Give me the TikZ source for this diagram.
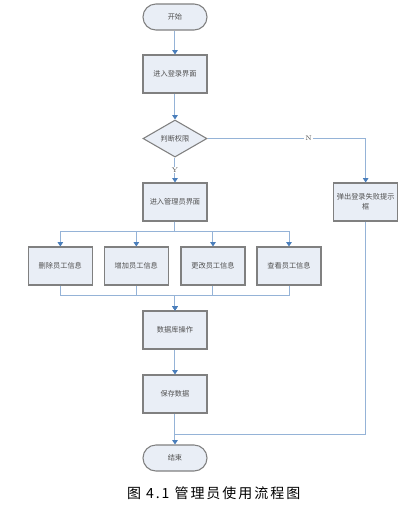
\documentclass[tikz,border=0pt]{standalone}
\usepackage{fontspec}
\newfontfamily\cjk{Noto Sans CJK SC}
\newfontfamily\capfont[LetterSpace=14]{Noto Sans CJK SC}
\usepackage{xcolor}
\usepackage{tikz}
\usetikzlibrary{arrows.meta, positioning, shapes.geometric}

\definecolor{boxfill}{HTML}{E9EEF6}
\definecolor{boxline}{HTML}{808080}
\definecolor{linkline}{HTML}{95B3D7}
\definecolor{tipblue}{HTML}{4A7EBB}
\definecolor{boxtext}{HTML}{505050}

\begin{document}
\begin{tikzpicture}[
node distance=48pt,
base/.style={
    draw=boxline, fill=boxfill, line width=0.8pt, align=center,
    text=boxtext, inner sep=1pt,
    font=\cjk\fontsize{5.4}{7.5}\selectfont
},
stepbox/.style={base, minimum width=48pt, minimum height=28.5pt},
terminal/.style={base, rounded corners=9.7pt, minimum width=48pt, minimum height=19.5pt},
decision/.style={base, diamond, minimum width=48pt, minimum height=27.8pt, inner sep=0pt},
line/.style={draw=linkline, line width=0.75pt},
arrow/.style={line, -{Triangle[length=3.2pt, width=4pt, color=tipblue]}},
lbl/.style={font=\fontsize{5}{6}\selectfont, text=boxtext, fill=white, inner sep=0.8pt},
caption/.style={font=\capfont\fontsize{10.5}{12}\selectfont}
]

\useasboundingbox (-131.25pt,12.75pt) rectangle (182.25pt,-370.5pt);

\node (start) [terminal] {开始};

\node (login) [below of=start, yshift=5.25pt, stepbox] {进入登录界面};
\node (check) [below of=login, yshift=-0.4pt, decision] {判断权限};
\node (mgr) [below of=check, yshift=0.4pt, stepbox] {进入管理员界面};

\node (fail) [right of=mgr, xshift=95pt, stepbox] {弹出登录失败提示\\框};

\node (del) [below of=mgr, xshift=-86pt, stepbox] {删除员工信息};
\node (add) [below of=mgr, xshift=-29pt, stepbox] {增加员工信息};
\node (edit) [below of=mgr, xshift=28.5pt, stepbox] {更改员工信息};
\node (view) [below of=mgr, xshift=85.5pt, stepbox] {查看员工信息};

\node (db) [below of=mgr, yshift=-48pt, stepbox] {数据库操作};
\node (save) [below of=db, stepbox] {保存数据};
\node (end) [below of=save, terminal] {结束};

\node (cap) [below of=end, yshift=21.75pt, xshift=29pt, caption] {图 4.1 管理员使用流程图};

\coordinate (merge) at ([yshift=7.5pt]end.north);

\draw[arrow] (start) -- (login);
\draw[arrow] (login) -- (check);
\draw[arrow] (check) -- node[lbl] {Y} (mgr);
\draw[arrow] (check.east) -| node[lbl, pos=0.32] {N} (fail.north);

\draw[arrow] (mgr.south) -- ++(0,-7.3pt) -| (del.north);
\draw[arrow] (mgr.south) -- ++(0,-7.3pt) -| (add.north);
\draw[arrow] (mgr.south) -- ++(0,-7.3pt) -| (edit.north);
\draw[arrow] (mgr.south) -- ++(0,-7.3pt) -| (view.north);

\draw[arrow] (del.south) -- ++(0,-7.3pt) -| (db.north);
\draw[arrow] (add.south) -- ++(0,-7.3pt) -| (db.north);
\draw[arrow] (edit.south) -- ++(0,-7.3pt) -| (db.north);
\draw[arrow] (view.south) -- ++(0,-7.3pt) -| (db.north);

\draw[arrow] (db) -- (save);
\draw[arrow] (save) -- (end);
\draw[line] (fail.south) |- (merge);

\end{tikzpicture}
\end{document}
